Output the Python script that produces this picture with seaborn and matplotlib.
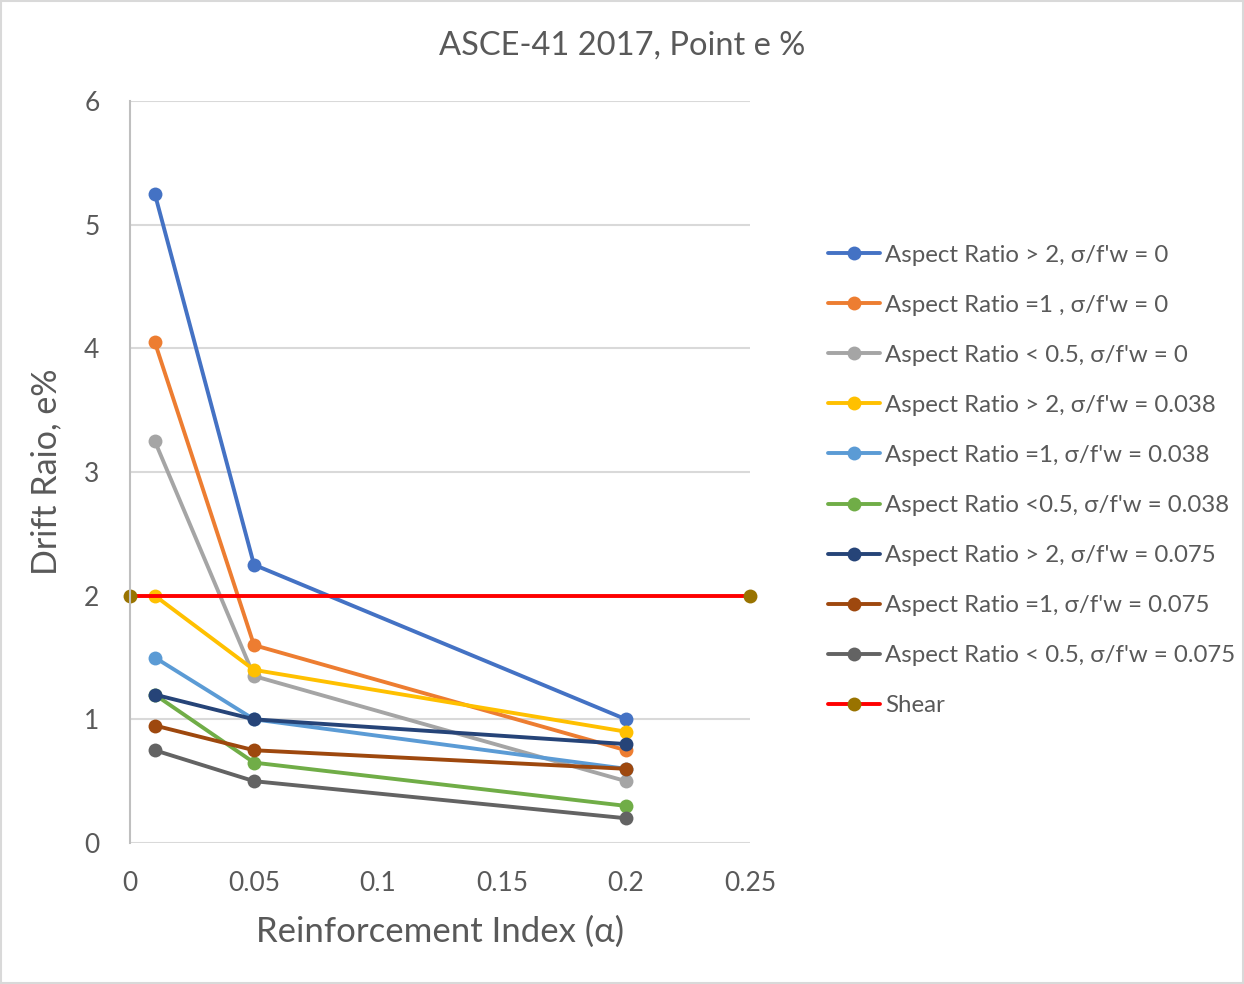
import matplotlib
matplotlib.use("Agg")
import matplotlib.pyplot as plt
import seaborn as sns
import pandas as pd
from matplotlib.patches import Rectangle

x_vals = [0.01, 0.05, 0.2]
series_names = [
    "Aspect Ratio > 2, σ/f'w = 0",
    "Aspect Ratio =1 , σ/f'w = 0",
    "Aspect Ratio < 0.5, σ/f'w = 0",
    "Aspect Ratio > 2, σ/f'w = 0.038",
    "Aspect Ratio =1, σ/f'w = 0.038",
    "Aspect Ratio <0.5, σ/f'w = 0.038",
    "Aspect Ratio > 2, σ/f'w = 0.075",
    "Aspect Ratio =1, σ/f'w = 0.075",
    "Aspect Ratio < 0.5, σ/f'w = 0.075",
]
ar2_s0 = [5.25, 2.25, 1.0]
ar1_s0 = [4.05, 1.6, 0.75]
ar05_s0 = [3.25, 1.35, 0.5]
ar2_s038 = [2.0, 1.4, 0.9]
ar1_s038 = [1.5, 1.0, 0.6]
ar05_s038 = [1.2, 0.65, 0.3]
ar2_s075 = [1.2, 1.0, 0.8]
ar1_s075 = [0.95, 0.75, 0.6]
ar05_s075 = [0.75, 0.5, 0.2]
series_values = [ar2_s0, ar1_s0, ar05_s0, ar2_s038, ar1_s038, ar05_s038,
                 ar2_s075, ar1_s075, ar05_s075]
colors = ["#4472C4", "#ED7D31", "#A5A5A5", "#FFC000", "#5B9BD5", "#70AD47",
          "#264478", "#9E480E", "#636363"]

shear_x = [0.0, 0.25]
shear_y = [2.0, 2.0]

sns.set_style("white")
plt.rcParams['font.family'] = ['Lato', 'DejaVu Sans']
text_color = "#595959"

fig = plt.figure(figsize=(12.44, 9.84), dpi=100)
ax = fig.add_axes([130/1244, 1 - 843/984, 620/1244, 742/984])

rows = []
for name, vals in zip(series_names, series_values):
    for xv, yv in zip(x_vals, vals):
        rows.append({"alpha": xv, "drift": yv, "series": name})
df = pd.DataFrame(rows)

for name, col in zip(series_names, colors):
    sub = df[df["series"] == name]
    sns.lineplot(data=sub, x="alpha", y="drift", ax=ax, color=col, marker="o",
                 markersize=10, markeredgewidth=0, linewidth=2.8, label=name,
                 estimator=None, sort=False)

shear_df = pd.DataFrame({"alpha": shear_x, "drift": shear_y})
sns.lineplot(data=shear_df, x="alpha", y="drift", ax=ax, color="#FF0000",
             marker="o", markersize=10, markerfacecolor="#997300",
             markeredgecolor="#997300", markeredgewidth=0, linewidth=2.8,
             label="Shear", estimator=None, sort=False)

for ln in ax.lines:
    ln.set_clip_on(False)

ax.set_xlim(0, 0.25)
ax.set_ylim(0, 6)
ax.set_xticks([0, 0.05, 0.1, 0.15, 0.2, 0.25])
ax.set_xticklabels(["0", "0.05", "0.1", "0.15", "0.2", "0.25"])
ax.set_yticks([0, 1, 2, 3, 4, 5, 6])
ax.yaxis.grid(True, color="#D9D9D9", linewidth=1.5)
ax.set_axisbelow(True)
for s in ["top", "right", "bottom"]:
    ax.spines[s].set_visible(False)
ax.spines["left"].set_color("#BFBFBF")
ax.spines["left"].set_linewidth(1.5)
ax.tick_params(axis="both", length=0, labelsize=19, colors=text_color)
ax.tick_params(axis="y", pad=22)
ax.tick_params(axis="x", pad=20)

ax.set_xlabel("Reinforcement Index (α)", fontsize=25, color=text_color, labelpad=14)
ax.set_ylabel("Drift Raio, e%", fontsize=24.5, color=text_color, labelpad=16)
fig.text(0.5, 1 - 46/984, "ASCE-41 2017, Point e %", ha="center", va="center",
         fontsize=23.5, color=text_color)

leg = ax.legend(loc="upper left", bbox_to_anchor=(818/1244, 1 - 235/984),
                bbox_transform=fig.transFigure, frameon=False, fontsize=17.3,
                labelspacing=1.21, handlelength=2.2, handletextpad=0.2,
                borderaxespad=0)
for t in leg.get_texts():
    t.set_color(text_color)

fig.patches.append(Rectangle((0.001, 0.001), 0.998, 0.998, transform=fig.transFigure,
                             fill=False, edgecolor="#D9D9D9", linewidth=1.5))

fig.savefig("out.png", dpi=100)
